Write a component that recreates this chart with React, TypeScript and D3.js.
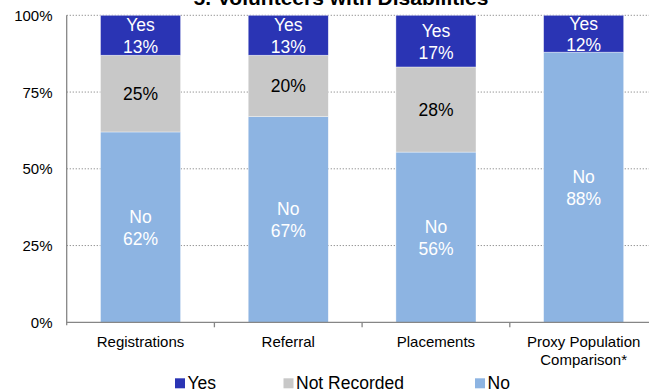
import React from "react";
import * as d3 from "d3";

const categories = ["Registrations", "Referral", "Placements", "Proxy Population|Comparison*"];
const seriesNames = ["No", "Not Recorded", "Yes"];
const noValues = [62, 67, 56, 88];
const notRecordedValues = [25, 20, 28, 0];
const yesValues = [13, 13, 17, 12];
const yTicks = [0, 0.25, 0.5, 0.75, 1];
const colors: Record<string, string> = { Yes: "#2A34B4", "Not Recorded": "#C8C8C8", No: "#8DB4E2" };
const labelColors: Record<string, string> = { Yes: "#FFFFFF", "Not Recorded": "#000000", No: "#FFFFFF" };
const legendOrder = ["Yes", "Not Recorded", "No"];

const W = 649;
const H = 392;
const FONT = "'Liberation Sans', Arial, sans-serif";

export default function App() {
  const rows = categories.map((c, i) => ({
    cat: c,
    No: noValues[i],
    "Not Recorded": notRecordedValues[i],
    Yes: yesValues[i],
  }));
  const stacked = d3.stack<any>().keys(seriesNames).offset(d3.stackOffsetExpand)(rows);

  const x = d3.scaleBand<string>().domain(categories).range([66.7, 657.5]).paddingInner(0.458).paddingOuter(0.229);
  const y = d3.scaleLinear().domain([0, 1]).range([322.3, 15.3]);
  const step = x.step();
  const left = 66.7;

  return (
    <svg width={W} height={H} style={{ position: "absolute", left: 0, top: 0, display: "block" }} fontFamily={FONT}>
      <rect x={0} y={0} width={W} height={H} fill="#fff" />
      {/* gridlines */}
      {yTicks.filter((t) => t > 0).map((t) => (
        <line key={t} x1={left} x2={W} y1={y(t)} y2={y(t)} stroke="#8a8a8a" strokeWidth={1} strokeDasharray="1.2,1.8" />
      ))}
      {/* bars */}
      {stacked.map((s) => (
        <g key={s.key}>
          {s.map((d, i) => {
            const h = y(d[0]) - y(d[1]);
            if (h <= 0.01) return null;
            return (
              <rect key={i} x={x(categories[i])} y={y(d[1])} width={x.bandwidth()} height={h}
                fill={colors[s.key]} stroke="#ffffff" strokeWidth={0.6} strokeOpacity={0.6} />
            );
          })}
        </g>
      ))}
      {/* labels */}
      {stacked.map((s) => (
        <g key={"l" + s.key}>
          {s.map((d, i) => {
            const raw = (rows[i] as any)[s.key] as number;
            if (!raw) return null;
            const cx = (x(categories[i]) as number) + x.bandwidth() / 2;
            const cy = (y(d[0]) + y(d[1])) / 2;
            const col = labelColors[s.key];
            if (s.key === "Not Recorded") {
              return (
                <text key={i} x={cx} y={cy + 6} textAnchor="middle" fontSize={17.5} fill={col}>{raw}%</text>
              );
            }
            return (
              <text key={i} x={cx} textAnchor="middle" fontSize={17.5} fill={col}>
                <tspan x={cx} y={cy - 4}>{s.key}</tspan>
                <tspan x={cx} y={cy + 17.5}>{raw}%</tspan>
              </text>
            );
          })}
        </g>
      ))}
      {/* axes */}
      <line x1={left} x2={left} y1={y(1)} y2={y(0) + 3} stroke="#868686" strokeWidth={1.3} />
      <line x1={left} x2={W} y1={y(0)} y2={y(0)} stroke="#868686" strokeWidth={1.3} />
      {categories.map((c, i) => (
        <line key={"t" + i} x1={left + step * (i + 1)} x2={left + step * (i + 1)} y1={y(0)} y2={y(0) + 5} stroke="#868686" strokeWidth={1.3} />
      ))}
      {yTicks.map((t) => (
        <text key={"y" + t} x={52.5} y={y(t) + 5.5} textAnchor="end" fontSize={15} fill="#000">{d3.format(".0%")(t)}</text>
      ))}
      {categories.map((c) => {
        const cx = (x(c) as number) + x.bandwidth() / 2;
        const lines = c.split("|");
        return (
          <text key={"c" + c} textAnchor="middle" fontSize={15} fill="#000">
            {lines.map((ln, j) => (
              <tspan key={j} x={cx} y={347 + j * 17.5}>{ln}</tspan>
            ))}
          </text>
        );
      })}
      {/* title */}
      <text x={341} y={5} textAnchor="middle" fontSize={21} fontWeight="bold" fill="#000">5. Volunteers with Disabilities</text>
      {/* legend */}
      {legendOrder.map((k, i) => {
        const lx = [175, 283.5, 475][i];
        return (
          <g key={"lg" + k}>
            <rect x={lx} y={378.3} width={10} height={10} fill={colors[k]} />
            <text x={lx + 12.5} y={389} fontSize={17.5} fill="#000">{k}</text>
          </g>
        );
      })}
    </svg>
  );
}
